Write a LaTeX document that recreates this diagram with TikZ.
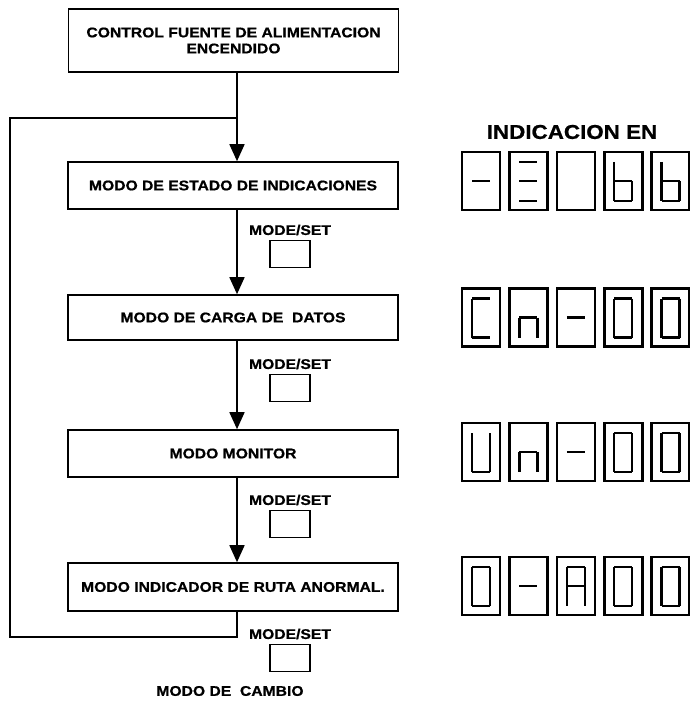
\documentclass[tikz,border=0pt]{standalone}
\usepackage{fontspec}
\newfontfamily\lab{Liberation Sans}[FakeStretch=1.12,FakeBold=0.8]
\usetikzlibrary{arrows.meta}
\begin{document}
\begin{tikzpicture}[x=1pt,y=-1pt,
  every node/.style={font=\lab\bfseries\fontsize{14}{17}\selectfont},
  flowbox/.style={draw,line width=1.6pt,minimum width=330pt,inner sep=0pt,align=center},
  keybox/.style={draw,line width=1.6pt,minimum width=40pt,minimum height=27pt,inner sep=0pt},
  conn/.style={line width=1.6pt},
  arr/.style={conn,-{Triangle[width=15pt,length=17pt]}},
  dbox/.style={line width=2.6pt},
  seg/.style={line width=2.3pt},
  digit/.pic={
    \draw[dbox] (-19,-29) rectangle (19,29);
    \foreach \s in {#1}{
      \if a\s \draw[seg] (-9,-19)--(9,-19);\fi
      \if b\s \draw[seg] (9,-19)--(9,0);\fi
      \if c\s \draw[seg] (9,0)--(9,20);\fi
      \if d\s \draw[seg] (-9,20)--(9,20);\fi
      \if e\s \draw[seg] (-9,0)--(-9,20);\fi
      \if f\s \draw[seg] (-9,-19)--(-9,0);\fi
      \if g\s \draw[seg] (-9,0)--(9,0);\fi
    }
  }]
\useasboundingbox (0,0) rectangle (689,703);

% flow boxes
\node[flowbox,minimum height=63pt] (b1) at (233.5,40.5) {CONTROL FUENTE DE ALIMENTACION\\[-1pt]ENCENDIDO};
\node[flowbox,minimum height=47pt] (b2) at (233,185.5) {MODO DE ESTADO DE INDICACIONES};
\node[flowbox,minimum height=45pt] (b3) at (233,317.5) {MODO DE CARGA DE \ DATOS};
\node[flowbox,minimum height=47pt] (b4) at (233,453.5) {MODO MONITOR};
\node[flowbox,minimum height=48pt] (b5) at (233,587) {MODO INDICADOR DE RUTA ANORMAL.};

% mode/set labels and keys
\node (m1) at (290,230) {MODE/SET};
\node[keybox] (k1) at (290,254) {};
\node (m2) at (290,364) {MODE/SET};
\node[keybox] (k2) at (290,388) {};
\node (m3) at (290,500) {MODE/SET};
\node[keybox] (k3) at (290,524) {};
\node (m4) at (290,634) {MODE/SET};
\node[keybox] (k4) at (290,658) {};
\node (mc) at (230,691) {MODO DE \ CAMBIO};

% connectors
\coordinate (ax) at (237,0);
\coordinate (ltl) at (10,118);
\coordinate (ltr) at (237,118);
\coordinate (lbl) at (10,637);
\coordinate (lbr) at (237,637);
\draw[arr] (b1.south -| ax) -- (b2.north -| ax);
\draw[arr] (b2.south -| ax) -- (b3.north -| ax);
\draw[arr] (b3.south -| ax) -- (b4.north -| ax);
\draw[arr] (b4.south -| ax) -- (b5.north -| ax);
\draw[conn] (b5.south -| ax) -- (lbr) -- (lbl) -- (ltl) -- (ltr);

% display
\node[font=\lab\bfseries\fontsize{20}{24}\selectfont] (title) at (572,132) {INDICACION EN};

\pic (r1d1) at (481,181) {digit={g}};
\pic (r1d2) at (528.4,181) {digit={a,g,d}};
\pic (r1d3) at (575.8,181) {digit={x}};
\pic (r1d4) at (623.2,181) {digit={f,e,d,c,g}};
\pic (r1d5) at (670.6,181) {digit={f,e,d,c,g}};

\pic (r2d1) at (481,317.5) {digit={a,f,e,d}};
\pic (r2d2) at (528.4,317.5) {digit={g,e,c}};
\pic (r2d3) at (575.8,317.5) {digit={g}};
\pic (r2d4) at (623.2,317.5) {digit={a,b,c,d,e,f}};
\pic (r2d5) at (670.6,317.5) {digit={a,b,c,d,e,f}};

\pic (r3d1) at (481,452) {digit={f,e,d,c,b}};
\pic (r3d2) at (528.4,452) {digit={g,e,c}};
\pic (r3d3) at (575.8,452) {digit={g}};
\pic (r3d4) at (623.2,452) {digit={a,b,c,d,e,f}};
\pic (r3d5) at (670.6,452) {digit={a,b,c,d,e,f}};

\pic (r4d1) at (481,586) {digit={a,b,c,d,e,f}};
\pic (r4d2) at (528.4,586) {digit={g}};
\pic (r4d3) at (575.8,586) {digit={a,b,c,e,f,g}};
\pic (r4d4) at (623.2,586) {digit={a,b,c,d,e,f}};
\pic (r4d5) at (670.6,586) {digit={a,b,c,d,e,f}};
\end{tikzpicture}
\end{document}
